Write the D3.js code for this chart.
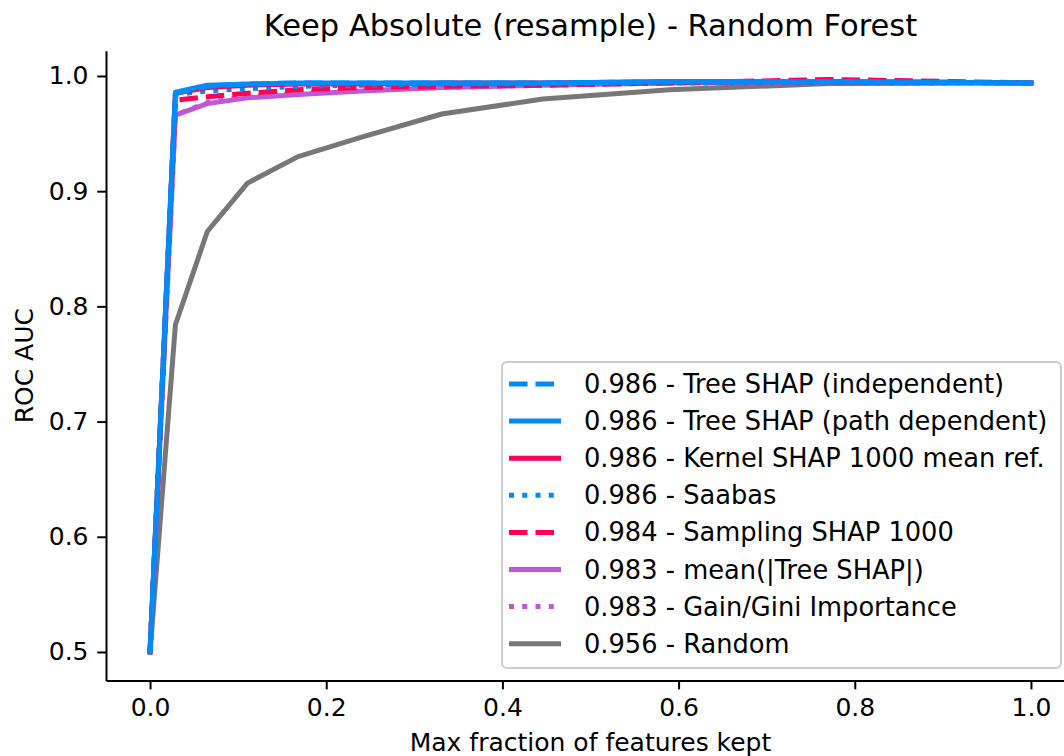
<!DOCTYPE html>
<html>
<head>
<meta charset="utf-8">
<script src="https://cdn.jsdelivr.net/npm/d3@7"></script>
<style>
  body { margin: 0; background: #fff; }
  svg { display: block; font-family: "DejaVu Sans", sans-serif; }
</style>
</head>
<body>
<svg id="chart" width="1064" height="756"></svg>
<script>
// fraction of features kept (x positions of every curve)
const fractions = [0, 0.0288, 0.065, 0.1106, 0.168, 0.2402, 0.3312, 0.4458, 0.59, 0.7715, 1.0];

// ROC AUC for each method
const treeShapIndependent = [0.5, 0.985, 0.991, 0.993, 0.994, 0.994, 0.994, 0.994, 0.995, 0.995, 0.994];
const treeShapPath        = [0.5, 0.986, 0.992, 0.993, 0.994, 0.994, 0.994, 0.994, 0.995, 0.995, 0.994];
const kernelShap          = [0.5, 0.985, 0.990, 0.992, 0.993, 0.993, 0.994, 0.994, 0.995, 0.995, 0.994];
const saabas              = [0.5, 0.984, 0.987, 0.989, 0.991, 0.992, 0.993, 0.993, 0.994, 0.994, 0.994];
const samplingShap        = [0.5, 0.979, 0.982, 0.985, 0.988, 0.990, 0.991, 0.992, 0.994, 0.997, 0.994];
const meanTreeShap        = [0.5, 0.966, 0.976, 0.981, 0.984, 0.987, 0.990, 0.992, 0.994, 0.995, 0.994];
const gainGini            = [0.5, 0.966, 0.977, 0.982, 0.985, 0.988, 0.990, 0.992, 0.994, 0.995, 0.994];
const randomOrder         = [0.5, 0.784, 0.865, 0.907, 0.930, 0.947, 0.967, 0.980, 0.988, 0.9935, 0.994];

// legend labels
const scores = ["0.986", "0.986", "0.986", "0.986", "0.984", "0.983", "0.983", "0.956"];
const names = [
    "Tree SHAP (independent)",
    "Tree SHAP (path dependent)",
    "Kernel SHAP 1000 mean ref.",
    "Saabas",
    "Sampling SHAP 1000",
    "mean(|Tree SHAP|)",
    "Gain/Gini Importance",
    "Random"
];

const xTicks = [0, 0.2, 0.4, 0.6, 0.8, 1.0];
const yTicks = [0.5, 0.6, 0.7, 0.8, 0.9, 1.0];

const BLUE = "#008bfb", RED = "#ff0052", PURPLE = "#c356d6", GRAY = "#777777";
const LW = 5;
const DASHES = { solid: null, dashed: "18.5,8", dotted: "5,8.25" };

const series = [
    { values: treeShapIndependent, color: BLUE,   style: "dashed" },
    { values: treeShapPath,        color: BLUE,   style: "solid" },
    { values: kernelShap,          color: RED,    style: "solid" },
    { values: saabas,              color: BLUE,   style: "dotted" },
    { values: samplingShap,        color: RED,    style: "dashed" },
    { values: meanTreeShap,        color: PURPLE, style: "solid" },
    { values: gainGini,            color: PURPLE, style: "dotted" },
    { values: randomOrder,         color: GRAY,   style: "solid" }
].map((s, i) => Object.assign(s, { label: scores[i] + " - " + names[i] }));

const FONT = 25;
const MARGIN = { left: 106, right: 1075, top: 50.8, bottom: 680.6 };

const svg = d3.select("#chart");

// scales
const x = d3.scaleLinear().domain([-0.05, 1.05]).range([MARGIN.left, MARGIN.right]);
const y = d3.scaleLinear().domain([0.47515, 1.02185]).range([MARGIN.bottom, MARGIN.top]);

const line = d3.line()
    .x((d, i) => x(fractions[i]))
    .y(d => y(d));

// curves, last legend entry drawn first so the blue ones end up on top
svg.append("g")
    .selectAll("path")
    .data(series.slice().reverse())
    .join("path")
    .attr("d", d => line(d.values))
    .attr("fill", "none")
    .attr("stroke", d => d.color)
    .attr("stroke-width", LW)
    .attr("stroke-linejoin", "round")
    .attr("stroke-linecap", d => d.style === "solid" ? "square" : "butt")
    .attr("stroke-dasharray", d => DASHES[d.style]);

// axes
const xAxis = svg.append("g")
    .attr("transform", `translate(0,${MARGIN.bottom})`)
    .call(d3.axisBottom(x).tickValues(xTicks).tickFormat(d3.format(".1f"))
        .tickSize(8.75).tickPadding(8.75).tickSizeOuter(0));

const yAxis = svg.append("g")
    .attr("transform", `translate(${MARGIN.left},0)`)
    .call(d3.axisLeft(y).tickValues(yTicks).tickFormat(d3.format(".1f"))
        .tickSize(8.75).tickPadding(8.75).tickSizeOuter(0));

[xAxis, yAxis].forEach(g => {
    g.attr("font-family", null).attr("font-size", FONT);
    g.select(".domain").attr("stroke", "#000").attr("stroke-width", 2);
    g.selectAll(".tick line").attr("stroke", "#000").attr("stroke-width", 2);
    g.selectAll(".tick text").attr("fill", "#000");
});

// title and axis labels
svg.append("text")
    .attr("x", (MARGIN.left + MARGIN.right) / 2)
    .attr("y", 36)
    .attr("text-anchor", "middle")
    .attr("font-size", 30.5)
    .text("Keep Absolute (resample) - Random Forest");

svg.append("text")
    .attr("x", (MARGIN.left + MARGIN.right) / 2)
    .attr("y", 751)
    .attr("text-anchor", "middle")
    .attr("font-size", FONT)
    .text("Max fraction of features kept");

svg.append("text")
    .attr("transform", `translate(33,${(MARGIN.top + MARGIN.bottom) / 2}) rotate(-90)`)
    .attr("text-anchor", "middle")
    .attr("font-size", FONT)
    .text("ROC AUC");

// legend in the lower right corner
const legend = svg.append("g");
const rowH = 37.1;
const box = { x: 502, y: 362, w: 559, h: 306 };

legend.append("rect")
    .attr("x", box.x).attr("y", box.y)
    .attr("width", box.w).attr("height", box.h)
    .attr("rx", 5).attr("ry", 5)
    .attr("fill", "#fff").attr("fill-opacity", 0.8)
    .attr("stroke", "#cccccc").attr("stroke-width", 2);

const rows = legend.selectAll("g.row")
    .data(series)
    .join("g")
    .attr("class", "row")
    .attr("transform", (d, i) => `translate(0,${384 + i * rowH})`);

rows.append("line")
    .attr("x1", 509).attr("x2", 561)
    .attr("stroke", d => d.color)
    .attr("stroke-width", LW)
    .attr("stroke-dasharray", d => DASHES[d.style]);

rows.append("text")
    .attr("x", 584)
    .attr("dy", "0.35em")
    .attr("font-size", 25.7)
    .text(d => d.label);
</script>
</body>
</html>
